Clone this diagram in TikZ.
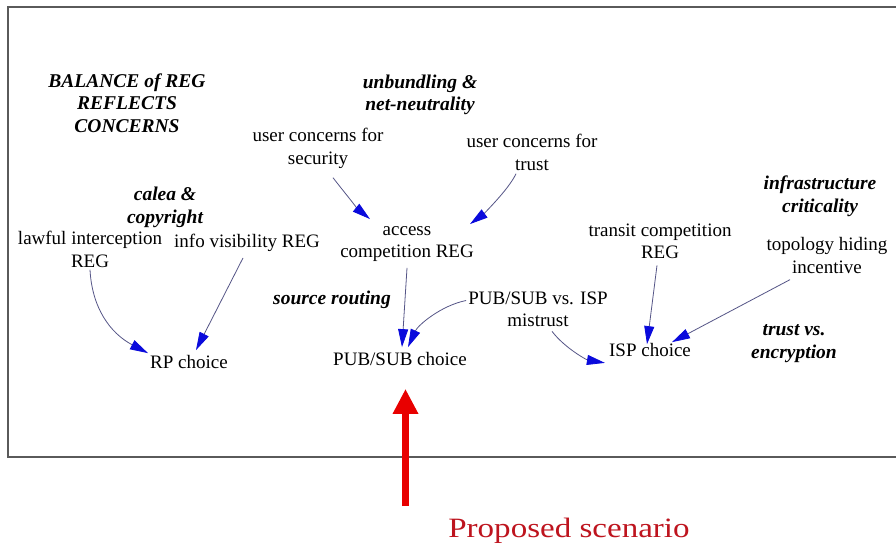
\documentclass[tikz,border=0pt]{standalone}
\usepackage{graphicx}
\usepackage{fontspec}
\setmainfont{Liberation Serif}
\usetikzlibrary{arrows.meta,calc}
\definecolor{lnc}{RGB}{85,85,135}
\definecolor{hdc}{RGB}{10,10,220}
\definecolor{frm}{RGB}{90,90,90}
\definecolor{redc}{RGB}{232,0,0}
\definecolor{capc}{RGB}{190,20,30}
\begin{document}
\begin{tikzpicture}[x=1pt,y=-1pt,
  txt/.style={font=\fontsize{19}{22.5}\selectfont, align=center, inner sep=2pt},
  emp/.style={font=\fontsize{19.5}{22.5}\selectfont\bfseries\itshape, align=center, inner sep=2pt},
  conn/.style={draw=lnc, line width=0.8pt, -{Triangle[length=18pt,width=10pt,color=hdc]}},
  bigarrow/.style={draw=redc, line width=7pt, -{Triangle[length=25pt,width=24pt,color=redc]}},
  framestyle/.style={draw=frm, line width=1.6pt, line join=miter}]
\useasboundingbox (0,0) rectangle (896,550);
\fill[white] (0,0) rectangle (896,550);
\draw[framestyle] (897,7) -- (8,7) -- (8,457) -- (897,457);

\node[emp] (bal) at (127,103) {BALANCE of REG\\REFLECTS\\CONCERNS};
\node[emp] (unb) at (420,95) {unbundling \&\\net-neutrality};
\node[txt] (sec) at (318,148.5) {user concerns for\\security};
\node[txt] (tru) at (532,152.5) {user concerns for\\trust};
\node[emp] (cal) at (165,207.5) {calea \&\\copyright};
\node[txt] (law) at (90,249.5) {lawful interception\\REG};
\node[txt] (inf) at (247,243) {info visibility REG};
\node[txt] (acc) at (407,244) {access\\competition REG};
\node[txt] (tra) at (660,241.5) {transit competition\\REG};
\node[emp] (ifr) at (820,196) {infrastructure\\criticality};
\node[txt] (top) at (827,255.5) {topology hiding\\incentive};
\node[emp] (src) at (332,300) {source routing};
\node[txt] (mis) at (538,309.5) {PUB/SUB vs. ISP\\mistrust};
\node[txt] (rp) at (189,362) {RP choice};
\node[txt] (ps) at (400,359) {PUB/SUB choice};
\node[txt] (isp) at (650,350) {ISP choice};
\node[emp] (tve) at (794,343.5) {trust vs.\\encryption};
\node[font=\fontsize{28}{32}\selectfont, text=capc, inner sep=0pt] (cap) at (569,531) {\scalebox{1.18}[1]{Proposed scenario}};

\draw[conn] (law.south) .. controls ($(law.south)+(2,38)$) and ($(rp.north west)+(-38,-20)$) .. (rp.north west);
\draw[conn] ($(inf.south)+(-4,4)$) -- ($(rp.north)+(7,-3)$);
\draw[conn] ($(sec.south)+(15,7)$) .. controls ($(sec.south)+(25,20)$) and ($(acc.north)+(-48,-14)$) .. ($(acc.north)+(-37,-5)$);
\draw[conn] ($(tru.south)+(-16,1)$) .. controls ($(tru.south)+(-24,18)$) and ($(acc.north)+(74,-8)$) .. ($(acc.north)+(63,0)$);
\draw[conn] ($(acc.south)+(0,4)$) -- ($(ps.north)+(2,-3)$);
\draw[conn] ($(mis.west)+(0,-9)$) .. controls ($(mis.west)+(-25,-4)$) and ($(ps.north)+(18,-25)$) .. ($(ps.north)+(8,-3)$);
\draw[conn] ($(mis.south)+(14,2)$) .. controls ($(mis.south)+(27,19)$) and ($(isp.south west)+(-20,1)$) .. ($(isp.south west)+(-2,4)$);
\draw[conn] ($(tra.south)+(-3,4)$) -- ($(isp.north)+(-3,3)$);
\draw[conn] ($(top.south)+(-37,4)$) -- ($(isp.north)+(22,1)$);

\coordinate (scen) at (405.5,506);
\draw[bigarrow] (scen) -- ($(ps.south)+(5.5,21)$);
\end{tikzpicture}
\end{document}
